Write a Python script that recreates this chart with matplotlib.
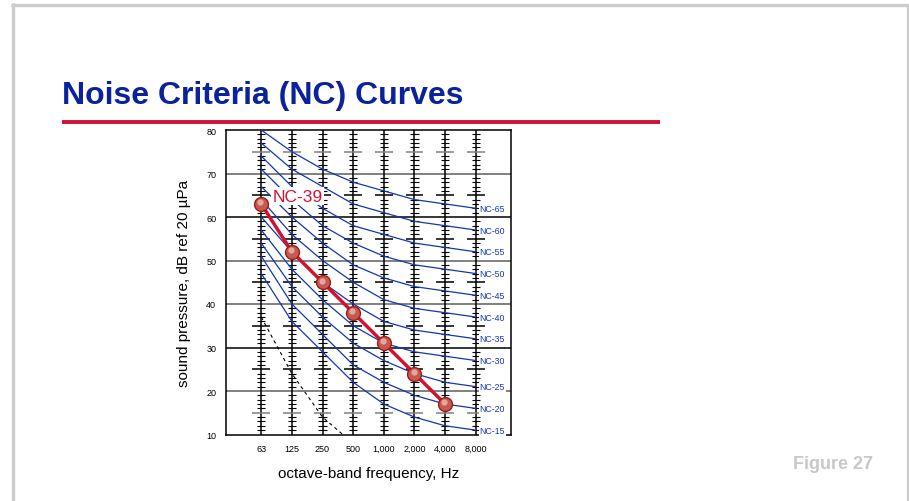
import matplotlib
matplotlib.use("Agg")

import matplotlib.pyplot as plt
from matplotlib import font_manager
from matplotlib.lines import Line2D
import numpy as np


BANDS = ["63", "125", "250", "500", "1,000", "2,000", "4,000", "8,000"]

NC_15 = [47, 36, 29, 22, 17, 14, 12, 11]
NC_20 = [51, 40, 33, 26, 22, 19, 17, 16]
NC_25 = [54, 44, 37, 31, 27, 24, 22, 21]
NC_30 = [57, 48, 41, 35, 31, 29, 28, 27]
NC_35 = [60, 52, 45, 40, 36, 34, 33, 32]
NC_40 = [64, 56, 50, 45, 41, 39, 38, 37]
NC_45 = [67, 60, 54, 49, 46, 44, 43, 42]
NC_50 = [71, 64, 58, 54, 51, 49, 48, 47]
NC_55 = [74, 67, 62, 58, 56, 54, 53, 52]
NC_60 = [77, 71, 67, 63, 61, 59, 58, 57]
NC_65 = [80, 75, 71, 68, 66, 64, 63, 62]

NC_CURVES = {
    "NC-15": NC_15, "NC-20": NC_20, "NC-25": NC_25, "NC-30": NC_30,
    "NC-35": NC_35, "NC-40": NC_40, "NC-45": NC_45, "NC-50": NC_50,
    "NC-55": NC_55, "NC-60": NC_60, "NC-65": NC_65,
}

# measured spectrum rated NC-39 (63 Hz .. 4 kHz)
MEASURED = [63, 52, 45, 38, 31, 24, 17]

# threshold of hearing (dashed), band position vs level
THRESH_X = [0, 1, 2, 2.66]
THRESH_Y = [37, 24, 14, 10]

BLUE = "#1236b4"
RED = "#d3122f"


def pick_font(names, fallback="Liberation Sans"):
    have = {f.name for f in font_manager.fontManager.ttflist}
    for n in names:
        if n in have:
            return n
    return fallback


NARROW = pick_font(["Liberation Sans Narrow", "Arial Narrow", "Nimbus Sans Narrow"])
plt.rcParams["font.family"] = ["Liberation Sans", "DejaVu Sans"]

fig = plt.figure(figsize=(9.09, 5.02), dpi=100)
ax = fig.add_axes([226 / 909, 1 - 435.5 / 502, 285 / 909, 304.5 / 502])

x = np.arange(len(BANDS))
ax.set_xlim(-1.15, 8.15)
ax.set_ylim(10, 80)

# grid rows
for lvl in range(20, 80, 10):
    dark = lvl in (30, 60)
    ax.axhline(lvl, color="black" if dark else "0.5", lw=1.1 if dark else 1.4, zorder=1)

# ruler columns
minor = [v for v in range(11, 80) if v % 5]
major = [v for v in range(15, 80, 10)]
for xi in x:
    ax.vlines(xi, 10, 80, color="black", lw=1.1, zorder=2)
    ax.hlines(minor, xi - 0.135, xi + 0.135, color="black", lw=0.8, zorder=2)
    for v in major:
        c = "0.5" if v in (15, 75) else "black"
        ax.hlines(v, xi - 0.29, xi + 0.29, color=c, lw=1.1, zorder=2)

# NC curves
for name, vals in NC_CURVES.items():
    ax.plot(x, vals, color=BLUE, lw=0.9, zorder=3)
    ax.text(x[-1] + 0.12, vals[-1], name, color=BLUE, fontsize=6.3, family=NARROW,
            va="center", ha="left", zorder=4,
            bbox=dict(facecolor="white", edgecolor="none", pad=0.6))

# threshold
ax.plot(THRESH_X, THRESH_Y, color="black", lw=0.8, ls=(0, (3, 3)), zorder=3)

# measured spectrum
mx = x[:len(MEASURED)]
ax.plot(mx, MEASURED, color=RED, lw=2.5, zorder=6)
ax.plot(mx, MEASURED, "o", ms=10, mfc="#c45a50", mec="#9e1b14", mew=1.0, zorder=7)
ax.plot(mx - 0.03, np.array(MEASURED) + 0.4, "o", ms=4.5, mfc="#eab4ac", mec="none",
        alpha=0.85, zorder=8)
ax.text(0.36, 64.8, "NC-39", color=RED, fontsize=12.5, family=NARROW, va="center",
        ha="left", zorder=5, bbox=dict(facecolor="white", edgecolor="none", pad=1.0))

for s in ax.spines.values():
    s.set_linewidth(1.1)
    s.set_color("black")

ax.set_xticks(x)
ax.set_xticklabels(BANDS, family=NARROW, fontsize=6.5)
ax.set_yticks(range(10, 90, 10))
ax.set_yticklabels([str(v) for v in range(10, 90, 10)], family=NARROW, fontsize=6.5)
ax.tick_params(length=0, pad=7)
ax.set_xlabel("octave-band frequency, Hz", family=NARROW, fontsize=11, labelpad=9)
ax.set_ylabel("sound pressure, dB ref 20 \u00b5Pa", family=NARROW, fontsize=11, labelpad=11)

# slide decoration
fig.text(62 / 909, 1 - 96 / 502, "Noise Criteria (NC) Curves", color="#0a239b",
         fontsize=23, fontweight="bold", va="center", ha="left")
fig.add_artist(Line2D([62 / 909, 660 / 909], [1 - 122.5 / 502] * 2, color="#d20f35",
                      lw=2.8, solid_capstyle="butt"))
fig.text(873 / 909, 1 - 465 / 502, "Figure 27", color="#c8c8c8", fontsize=13,
         fontweight="bold", va="center", ha="right")
frame = dict(color="#cccccc", lw=2.4, solid_capstyle="butt")
fig.add_artist(Line2D([12.5 / 909] * 2, [1 - 4 / 502, 0], **frame))
fig.add_artist(Line2D([11 / 909, 909 / 909], [1 - 6 / 502] * 2, **frame))
fig.add_artist(Line2D([907.5 / 909] * 2, [1 - 5 / 502, 0], **frame))

fig.savefig("out.png", dpi=100)
